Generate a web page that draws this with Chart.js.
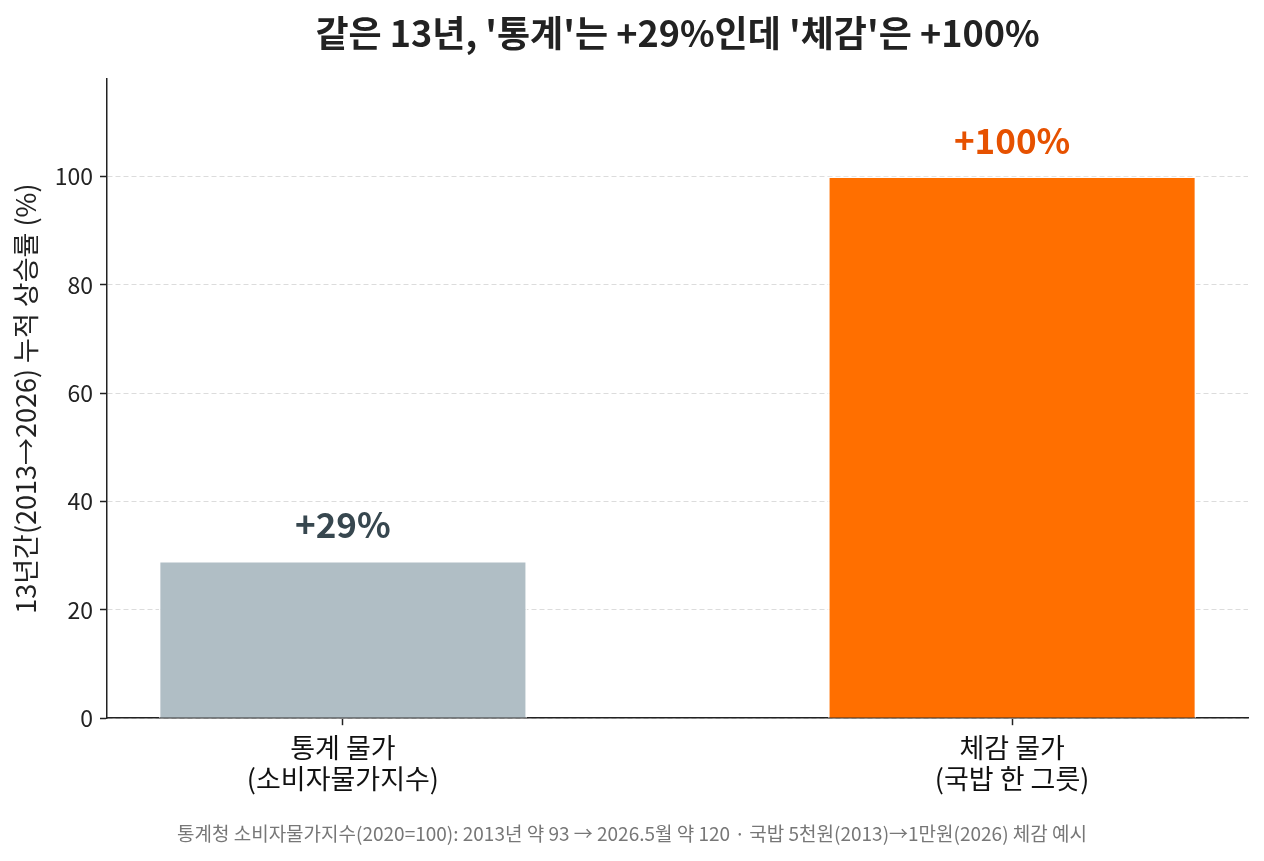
<!DOCTYPE html>
<html>
<head>
<meta charset="utf-8">
<script src="https://cdn.jsdelivr.net/npm/chart.js@4"></script>
<style>
  html, body { margin: 0; padding: 0; background: #ffffff; }
  #wrap { width: 1264px; height: 861px; }
</style>
</head>
<body>
<div id="wrap"><canvas id="c" width="1264" height="861"></canvas></div>
<script>
const categories = [["통계 물가", "(소비자물가지수)"], ["체감 물가", "(국밥 한 그릇)"]];
const values = [29, 100];
const valueLabels = ["+29%", "+100%"];
const barColors = ["#B0BEC5", "#FF6F00"];
const labelColors = ["#37474F", "#E65100"];
const yTicks = [0, 20, 40, 60, 80, 100];
const titleText = "같은 13년, '통계'는 +29%인데 '체감'은 +100%";
const yTitle = "13년간(2013→2026) 누적 상승률 (%)";
const footnote = "통계청 소비자물가지수(2020=100): 2013년 약 93 → 2026.5월 약 120 · 국밥 5천원(2013)→1만원(2026) 체감 예시";

const FONT = "'Noto Sans CJK KR', 'Noto Sans', sans-serif";

// Value labels above bars + title centred over the plot area
const annotatePlugin = {
  id: 'annotate',
  afterDatasetsDraw(chart) {
    const ctx = chart.ctx;
    const meta = chart.getDatasetMeta(0);
    ctx.save();
    ctx.font = "bold 35px " + FONT;
    ctx.textAlign = 'center';
    ctx.textBaseline = 'alphabetic';
    meta.data.forEach((bar, i) => {
      ctx.fillStyle = labelColors[i];
      ctx.fillText(valueLabels[i], bar.x, bar.y - 23);
    });
    ctx.restore();
  },
  afterDraw(chart) {
    const ctx = chart.ctx;
    const ca = chart.chartArea;
    ctx.save();
    ctx.font = "bold 36px " + FONT;
    ctx.fillStyle = '#222222';
    ctx.textAlign = 'center';
    ctx.textBaseline = 'middle';
    ctx.fillText(titleText, (ca.left + ca.right) / 2, 33);
    ctx.restore();
  }
};

new Chart(document.getElementById('c'), {
  type: 'bar',
  data: {
    datasets: [{
      data: values.map((v, i) => ({ x: i, y: v })),
      backgroundColor: barColors,
      borderColor: '#ffffff',
      borderWidth: 1.5,
      borderSkipped: 'start',
      barPercentage: 0.55,
      categoryPercentage: 1.0
    }]
  },
  plugins: [annotatePlugin],
  options: {
    responsive: false,
    animation: false,
    layout: { padding: { left: 0, right: 0, top: 79, bottom: 0 } },
    plugins: {
      legend: { display: false },
      tooltip: { enabled: false },
      title: { display: false },
      subtitle: {
        display: true,
        position: 'bottom',
        text: footnote,
        color: '#777777',
        font: { family: FONT, size: 19, lineHeight: 1.2 },
        padding: { top: 0, bottom: 16 }
      }
    },
    scales: {
      x: {
        type: 'linear',
        min: -0.3525,
        max: 1.3525,
        offset: false,
        afterBuildTicks: (scale) => { scale.ticks = categories.map((_, i) => ({ value: i })); },
        afterFit: (scale) => { scale.height = 104; scale.paddingRight = 16; scale.paddingLeft = 0; },
        ticks: {
          callback: (v) => categories[v],
          color: '#111111',
          font: { family: FONT, size: 27, lineHeight: 1.15 },
          padding: 7,
          maxRotation: 0,
          autoSkip: false
        },
        grid: {
          offset: false,
          drawOnChartArea: false,
          drawTicks: true,
          tickLength: 7,
          tickColor: '#222222',
          tickWidth: 1.5
        },
        border: { display: true, color: '#222222', width: 1.5 }
      },
      y: {
        min: 0,
        max: 118,
        afterBuildTicks: (scale) => { scale.ticks = yTicks.map(v => ({ value: v })); },
        afterFit: (scale) => { scale.width = 107; },
        ticks: {
          color: '#222222',
          font: { family: FONT, size: 23 },
          padding: 7
        },
        grid: {
          color: '#dcdcdc',
          lineWidth: 1,
          drawTicks: true,
          tickLength: 7,
          tickColor: '#222222',
          tickWidth: 1.5,
          tickBorderDash: []
        },
        border: { display: true, color: '#222222', width: 1.5, dash: [5, 3] },
        title: {
          display: true,
          text: yTitle,
          color: '#222222',
          font: { family: FONT, size: 27, lineHeight: 1.2 },
          padding: { top: 10, bottom: 4 }
        }
      }
    }
  }
});
</script>
</body>
</html>
